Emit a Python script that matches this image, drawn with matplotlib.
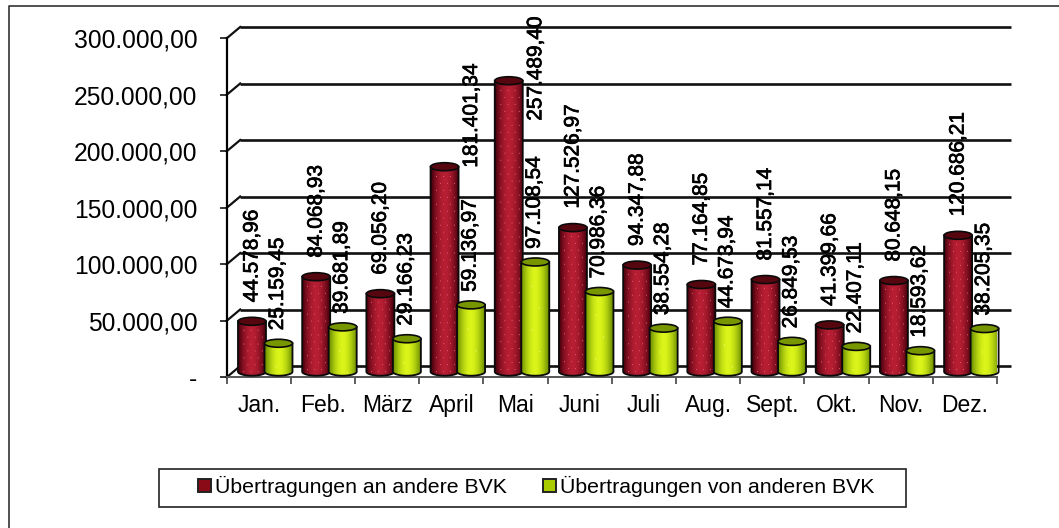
import numpy as np
import matplotlib
matplotlib.use("Agg")
import matplotlib.pyplot as plt
import matplotlib.patheffects as pe
from matplotlib.lines import Line2D
from matplotlib.patches import Ellipse, Patch, Polygon, Rectangle
from matplotlib.ticker import FuncFormatter
from matplotlib.transforms import offset_copy

plt.rcParams['font.family'] = ['Liberation Sans', 'DejaVu Sans']

months = ["Jan.", "Feb.", "März", "April", "Mai", "Juni", "Juli", "Aug.", "Sept.", "Okt.", "Nov.", "Dez."]
an_andere = [44578.96, 84068.93, 69056.20, 181401.34, 257489.40, 127526.97,
             94347.88, 77164.85, 81557.14, 41399.66, 80648.15, 120686.21]
von_anderen = [25159.45, 39681.89, 29166.23, 59136.97, 97108.54, 70986.36,
               38554.28, 44673.94, 26849.53, 22407.11, 18593.62, 38205.35]
y_ticks = [0, 50000, 100000, 150000, 200000, 250000, 300000]
series_names = ["Übertragungen an andere BVK", "Übertragungen von anderen BVK"]

W, H = 1059, 528
DPI = 100

# Achsenfenster in Pixeln
left, right = 226.7, 997.0
top, bottom = 38.3, 377.3
px_x = 12 / (right - left)      # Monate pro Pixel
px_y = 300000 / (bottom - top)  # Wert pro Pixel


def de_format(v, pos=None):
    if v == 0:
        return "-"
    s = f"{v:,.2f}"
    return s.replace(",", "#").replace(".", ",").replace("#", ".")


def cylinder_image(w, h, edge, mid, dot, pitch_x, pitch_y):
    # Zylinder: Verlauf quer zur Saeule plus Punktmuster
    w, h = max(int(w), 2), max(int(h), 2)
    t = np.abs(np.linspace(-1, 1, w)) ** 1.8
    grad = (1 - t)[:, None] * np.array(mid) + t[:, None] * np.array(edge)
    img = np.repeat(grad[None, :, :], h, axis=0)
    for row, yy in enumerate(range(2, h, pitch_y)):
        shift = pitch_x // 2 if row % 2 else 0
        for xx in range(2 + shift, w - 2, pitch_x):
            if 0.12 * w < xx < 0.88 * w:
                img[yy, xx] = dot
    return img


fig = plt.figure(figsize=(W / DPI, H / DPI), dpi=DPI)
ax = fig.add_axes([left / W, 1 - bottom / H, (right - left) / W, (bottom - top) / H])
ax.set_facecolor('none')

# Rueckwand: Gitterlinien und Diagonalen
back = offset_copy(ax.transData, fig, x=13.5, y=11.3, units='dots')
ax.hlines(y_ticks, 0, 12, transform=back, colors='#111111', lw=1.9, clip_on=False, zorder=1)
for v in y_ticks:
    ax.plot([0, 13.5 * px_x], [v, v + 11.3 * px_y], color='#111111', lw=1.6, clip_on=False, zorder=1)

base = 5.6 * px_y
ell_h = 8.0 * px_y
bar_w = 28.0 * px_x
styles = [
    dict(values=an_andere, pos=0.394, edge=(0.28, 0.0, 0.05), mid=(0.72, 0.12, 0.20), dot=(0.90, 0.32, 0.46),
         cap='#55060f', px=7, py=7, off=19, lab=0),
    dict(values=von_anderen, pos=0.807, edge=(0.42, 0.56, 0.0), mid=(0.86, 0.96, 0.10), dot=(0.98, 1.0, 0.45),
         cap='#789600', px=16, py=22, off=13, lab=-1),
]
# von Hand verschobene Beschriftungen (Spalte 0, April und Mai)
moved = {3: (27, -20), 4: (27, -59)}

for s_i, st in enumerate(styles):
    xs = np.arange(len(months)) + st['pos']
    bars = ax.bar(xs, st['values'], bar_w, bottom=base, color='none', edgecolor='none', zorder=3 + s_i)
    for i, (rect, v) in enumerate(zip(bars, st['values'])):
        x0 = rect.get_x()
        x1 = x0 + rect.get_width()
        y_top = base + v
        th = np.linspace(np.pi, 2 * np.pi, 30)
        arc = np.column_stack([(x0 + x1) / 2 + (x1 - x0) / 2 * np.cos(th), base + ell_h / 2 * np.sin(th)])
        outline = np.vstack([[x0, y_top], arc, [x1, y_top]])
        img = cylinder_image((x1 - x0) / px_x, (y_top - base) / px_y + 6, st['edge'], st['mid'], st['dot'], st['px'], st['py'])
        im = ax.imshow(img, extent=[x0, x1, base - ell_h / 2, y_top], aspect='auto', origin='upper',
                       interpolation='bilinear', zorder=3 + s_i, clip_on=True)
        body = Polygon(outline, closed=True, fc='none', ec='#0a0a0a', lw=1.3, zorder=3.2 + s_i, clip_on=False)
        ax.add_patch(body)
        im.set_clip_path(body)
        ax.add_patch(Ellipse(((x0 + x1) / 2, y_top), x1 - x0, ell_h, fc=st['cap'], ec='#0a0a0a', lw=1.2,
                             zorder=3.3 + s_i, clip_on=False))
        dx, dy = moved.get(i, (0, 0)) if s_i == 0 else (0, 0)
        ax.annotate(de_format(v), xy=((x0 + x1) / 2, y_top), xytext=(st['lab'] + dx, st['off'] + dy),
                    textcoords='offset pixels', rotation=90, ha='center', va='bottom', fontsize=15,
                    color='black', zorder=8, annotation_clip=False,
                    path_effects=[pe.withStroke(linewidth=0.5, foreground='black')])

ax.set_xlim(0, 12)
ax.set_ylim(0, 300000)

for name in ['top', 'right']:
    ax.spines[name].set_visible(False)
ax.spines['left'].set_linewidth(1.6)
ax.spines['bottom'].set_linewidth(1.4)
ax.spines['bottom'].set_color('#555555')

ax.set_yticks(y_ticks)
ax.yaxis.set_major_formatter(FuncFormatter(de_format))
ax.tick_params(axis='y', labelsize=17.7, length=5, width=1.1, pad=16)
ax.set_xticks(np.arange(0, 13))
ax.set_xticklabels([])
ax.set_xticks(np.arange(12) + 0.5, minor=True)
ax.set_xticklabels(months, minor=True)
ax.tick_params(axis='x', which='major', length=5, width=1.1, color='#333333')
ax.tick_params(axis='x', which='minor', length=0, labelsize=16.5, pad=12)

# Rahmen oben und links
fig.add_artist(Line2D([8.5 / W, 8.5 / W, 1], [0, 1 - 6.2 / H, 1 - 6.2 / H], color='#333333', lw=1.2))

# Legende
fig.add_artist(Rectangle((159 / W, 1 - 506.5 / H), 747 / W, 38 / H, fc='white', ec='#222222', lw=1.2,
                         transform=fig.transFigure))
handles = [Patch(fc='#8a0a18', ec='#222222', lw=1.4), Patch(fc='#a8cc00', ec='#222222', lw=1.4)]
fig.legend(handles, series_names, loc='center', bbox_to_anchor=(536.5 / W, 1 - 486.5 / H), ncol=2, frameon=False,
           fontsize=15.3, handlelength=0.6, handleheight=0.6, handletextpad=0.2, columnspacing=1.7)

fig.savefig("out.png", dpi=DPI)
